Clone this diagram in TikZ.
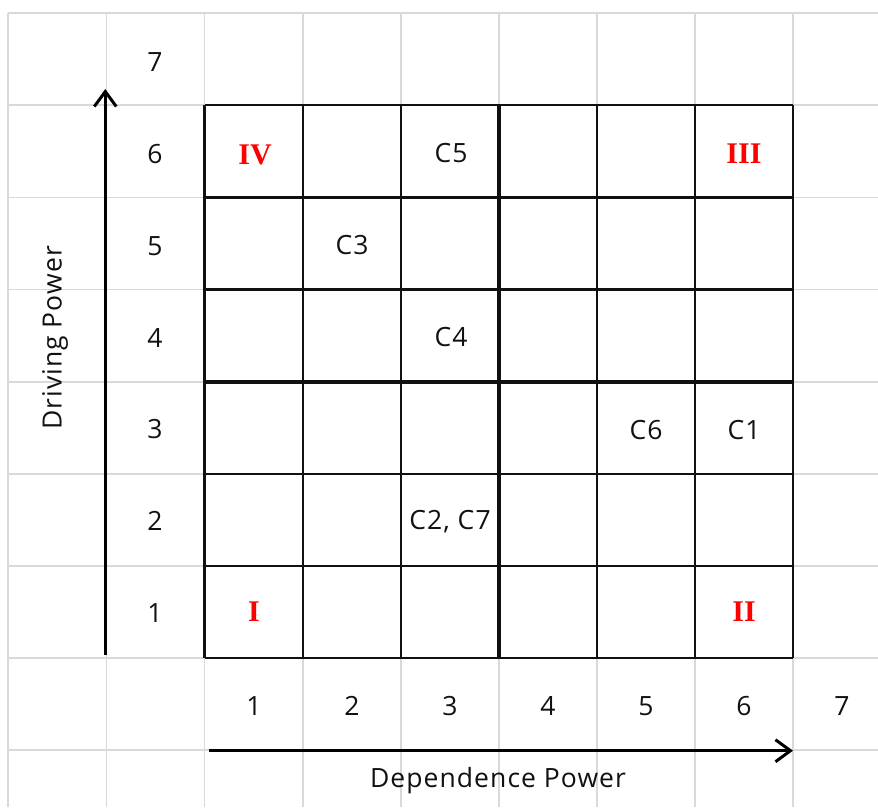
\documentclass[tikz,border=0pt]{standalone}
\usepackage{fontspec}
\setmainfont{Open Sans}[LetterSpace=4]
\newfontfamily\romfont{Liberation Serif}
\usetikzlibrary{arrows.meta}
\definecolor{gridgrey}{HTML}{D9D9D9}
\definecolor{quadred}{HTML}{FF0000}
\definecolor{inkblack}{HTML}{111111}
\begin{document}
\begin{tikzpicture}[x=1pt,y=-1pt,
  lbl/.style={font=\fontsize{26.5}{30}\selectfont, text=inkblack, inner sep=0pt},
  quad/.style={font=\romfont\bfseries\fontsize{30}{36}\selectfont, text=quadred, inner sep=0pt},
  gridline/.style={draw=gridgrey, line width=1.8pt},
  cellline/.style={draw=inkblack, line width=2.2pt},
  midline/.style={draw=inkblack, line width=3.8pt},
  axisarrow/.style={draw=black, line width=3pt, -{Straight Barb[length=15pt,width=22pt,line width=3pt]}}]
\useasboundingbox (0,0) rectangle (878,807);
\fill[white] (0,0) rectangle (878,807);
\begin{scope}
\clip (0,0) rectangle (878,807);
% light background grid
\foreach \i in {-2,...,6}
  \draw[gridline] ({204.5+98.1*\i},13.2) -- ({204.5+98.1*\i},807);
\foreach \j in {-1,...,7}
  \draw[gridline] (8.3,{105.3+92.1*\j}) -- (878,{105.3+92.1*\j});
\end{scope}
% black matrix grid
\foreach \i in {0,1,2,4,5,6}
  \draw[cellline] ({204.5+98.1*\i},105.3) -- ({204.5+98.1*\i},658);
\foreach \j in {0,1,2,4,5,6}
  \draw[cellline] (204.5,{105.3+92.1*\j}) -- (793.1,{105.3+92.1*\j});
\draw[midline] (498.8,105.3) -- (498.8,658);
\draw[midline] (204.5,381.6) -- (793.1,381.6);
% axes
\coordinate (ybot) at (105.3,655);
\coordinate (ytop) at (105.3,89);
\coordinate (xleft) at (209,750.7);
\coordinate (xright) at (793,750.7);
\draw[axisarrow] (ybot) -- (ytop);
\draw[axisarrow] (xleft) -- (xright);
% row numbers
\foreach \k in {1,...,7}
  \node[lbl] (r\k) at (155,{613-91.8*(\k-1)}) {\k};
% column numbers
\foreach \k in {1,...,7}
  \node[lbl] (c\k) at ({254+98*(\k-1)},706) {\k};
% axis titles
\node[lbl, rotate=90] (ytitle) at (55,338) {Driving Power};
\node[lbl] (xtitle) at (498,781) {Dependence Power};
% quadrant labels
\node[quad] (qIV) at (255,155) {IV};
\node[quad] (qIII) at (744,154) {III};
\node[quad] (qI) at (254,612) {I};
\node[quad] (qII) at (744,612) {II};
% variables
\node[lbl] (C5) at (451,153) {C5};
\node[lbl] (C3) at (352,245) {C3};
\node[lbl] (C4) at (451,337) {C4};
\node[lbl] (C6) at (646,430) {C6};
\node[lbl] (C1) at (744,430) {C1};
\node[lbl] (C27) at (450,522) {C2, C7};
\end{tikzpicture}
\end{document}
